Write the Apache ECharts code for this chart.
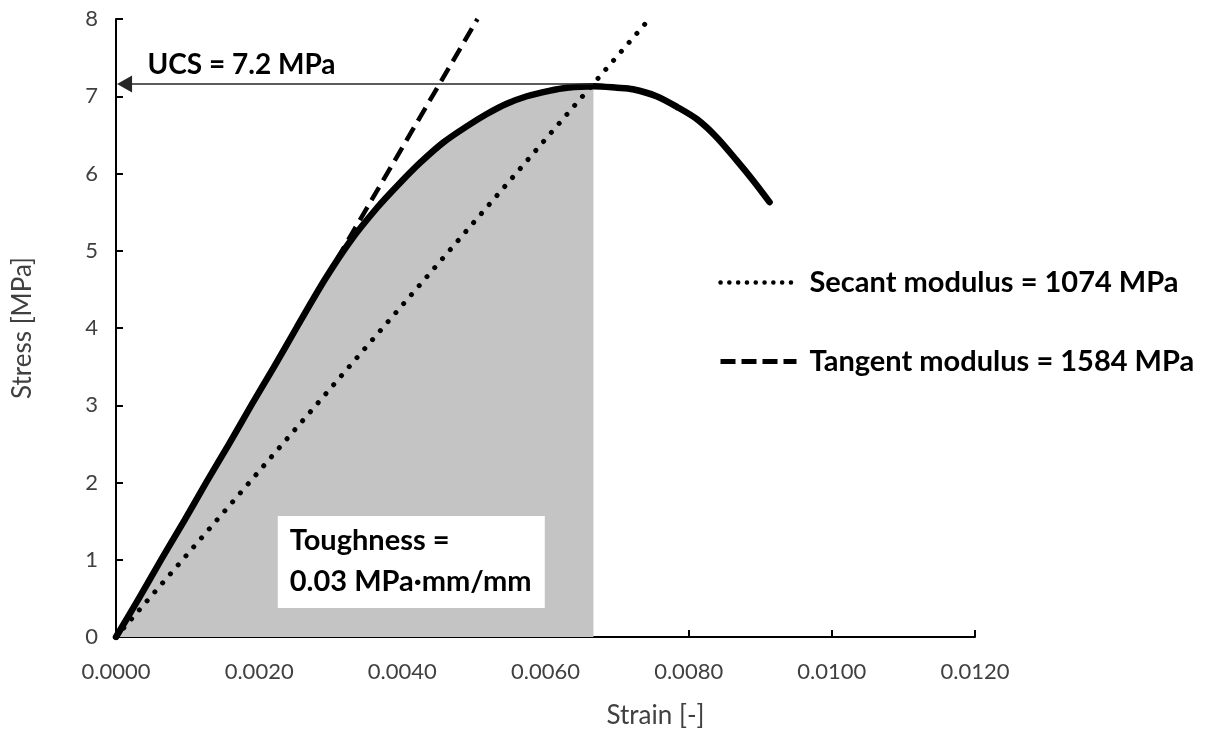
<!DOCTYPE html>
<html>
<head>
<meta charset="utf-8">
<script src="https://cdn.jsdelivr.net/npm/echarts@6/dist/echarts.min.js"></script>
<style>
html,body{margin:0;padding:0;background:#fff;}
#c{width:1211px;height:729px;}
</style>
</head>
<body>
<div id="c"></div>
<script>
// ---- data ----
const curveStrain = [0, 0.00032, 0.00063, 0.00095, 0.00126, 0.00158, 0.00189, 0.00221, 0.00252, 0.00292, 0.00327, 0.00365, 0.00397, 0.00425, 0.00457, 0.0049, 0.00518, 0.00545, 0.00574, 0.00605, 0.0063, 0.00667, 0.007, 0.00722, 0.00755, 0.00784, 0.00812, 0.00839, 0.00867, 0.0089, 0.00913];
const curveStress = [0, 0.5, 1, 1.5, 2, 2.5, 3, 3.5, 4, 4.63, 5.12, 5.56, 5.88, 6.14, 6.40, 6.61, 6.77, 6.90, 7.00, 7.07, 7.11, 7.13, 7.11, 7.09, 7.0, 6.86, 6.70, 6.47, 6.17, 5.91, 5.63];
const secantStrain = [0, 0.00745];
const secantStress = [0, 8];
const tangentStrain = [0, 0.00505];
const tangentStress = [0, 8];
const ucsStrain = [0.00667, 0.00012];
const ucsStress = [7.16, 7.16];
const toughnessEnd = 0.00667;
const xTicks = [0, 0.002, 0.004, 0.006, 0.008, 0.010, 0.012];
const yTicks = [0, 1, 2, 3, 4, 5, 6, 7, 8];
const secantName = 'Secant modulus = 1074 MPa';
const tangentName = 'Tangent modulus = 1584 MPa';
const ucsText = 'UCS = 7.2 MPa';
const toughnessText = 'Toughness =\n0.03 MPa·mm/mm';
const ucsLabelAt = [0.00044, 7.40];
const toughLabelAt = [0.00226, 1.566];

const zip = (a, b) => a.map((v, i) => [v, b[i]]);
const curve = zip(curveStrain, curveStress);
const shade = curve.filter(p => p[0] <= toughnessEnd + 1e-9);

const FONT = 'Lato';
const chart = echarts.init(document.getElementById('c'), null, {renderer: 'canvas'});
chart.setOption({
  animation: false,
  backgroundColor: '#ffffff',
  grid: {left: 116, right: 236, top: 19, bottom: 92, containLabel: false, outerBoundsMode: 'none'},
  xAxis: {
    type: 'value', min: xTicks[0], max: xTicks[xTicks.length - 1], interval: 0.002,
    name: 'Strain [-]', nameLocation: 'middle', nameGap: 66,
    nameTextStyle: {fontFamily: FONT, fontSize: 26, color: '#404040', padding: [0, 0, 0, 220]},
    axisLine: {lineStyle: {color: '#000', width: 2}},
    axisTick: {inside: true, length: 7, lineStyle: {color: '#000', width: 2}},
    axisLabel: {fontFamily: FONT, fontSize: 22, color: '#404040', margin: 24, formatter: v => v.toFixed(4)},
    splitLine: {show: false}
  },
  yAxis: {
    type: 'value', min: yTicks[0], max: yTicks[yTicks.length - 1], interval: 1,
    name: 'Stress [MPa]', nameLocation: 'middle', nameGap: 80,
    nameTextStyle: {fontFamily: FONT, fontSize: 26, color: '#404040'},
    axisLine: {lineStyle: {color: '#000', width: 2}},
    axisTick: {inside: true, length: 7, lineStyle: {color: '#000', width: 2}},
    axisLabel: {fontFamily: FONT, fontSize: 22, color: '#404040', margin: 18},
    splitLine: {show: false}
  },
  legend: {
    orient: 'vertical', left: 713, top: 263, itemWidth: 76, itemHeight: 14, itemGap: 50,
    data: [
      {name: secantName, lineStyle: {width: 4.5, type: [0.1, 8.7], cap: 'round', color: '#000'}},
      {name: tangentName, lineStyle: {width: 5, type: [15, 6], color: '#000'}}
    ],
    itemStyle: {opacity: 0},
    textStyle: {fontFamily: FONT, fontSize: 29, fontWeight: 'bold', color: '#000', padding: [0, 0, 0, 8]},
    selectedMode: false
  },
  series: [
    {
      name: 'toughness', type: 'line', data: shade, symbol: 'none', silent: true, smooth: 0.3,
      lineStyle: {width: 0, opacity: 0},
      areaStyle: {color: '#c4c4c4', opacity: 1},
      z: 1,
      markPoint: {
        symbol: 'rect', symbolSize: 0, silent: true,
        data: [{coord: toughLabelAt, value: 0}],
        label: {
          show: true, position: [0, 0], align: 'left', verticalAlign: 'top',
          formatter: toughnessText, fontFamily: FONT, fontSize: 29, fontWeight: 'bold',
          color: '#000', lineHeight: 41, backgroundColor: '#ffffff',
          padding: [4, 12, 6, 12], width: 243
        }
      }
    },
    {
      name: secantName, type: 'line', data: zip(secantStrain, secantStress), symbol: 'none',
      itemStyle: {color: '#000'},
      lineStyle: {color: '#000', width: 5, type: [0.1, 11.8], cap: 'round'}, z: 3
    },
    {
      name: tangentName, type: 'line', data: zip(tangentStrain, tangentStress), symbol: 'none',
      itemStyle: {color: '#000'},
      lineStyle: {color: '#000', width: 4.5, type: [15, 8]}, z: 3
    },
    {
      name: 'curve', type: 'line', data: curve, symbol: 'none', smooth: 0.3,
      itemStyle: {color: '#000'},
      lineStyle: {color: '#000', width: 6.5, cap: 'round', join: 'round'}, z: 4,
      markLine: {
        silent: true, animation: false,
        label: {show: false},
        lineStyle: {color: '#262626', width: 1.5, type: 'solid'},
        symbol: ['none', 'triangle'], symbolSize: [17, 15],
        data: [[{coord: [ucsStrain[0], ucsStress[0]]}, {coord: [ucsStrain[1], ucsStress[1]]}]]
      },
      markPoint: {
        symbol: 'rect', symbolSize: 0, silent: true,
        data: [{coord: ucsLabelAt, value: 0}],
        label: {
          show: true, position: [0, 0], align: 'left', verticalAlign: 'middle',
          formatter: ucsText, fontFamily: FONT, fontSize: 28, fontWeight: 'bold', color: '#000'
        }
      }
    }
  ]
});
</script>
</body>
</html>
